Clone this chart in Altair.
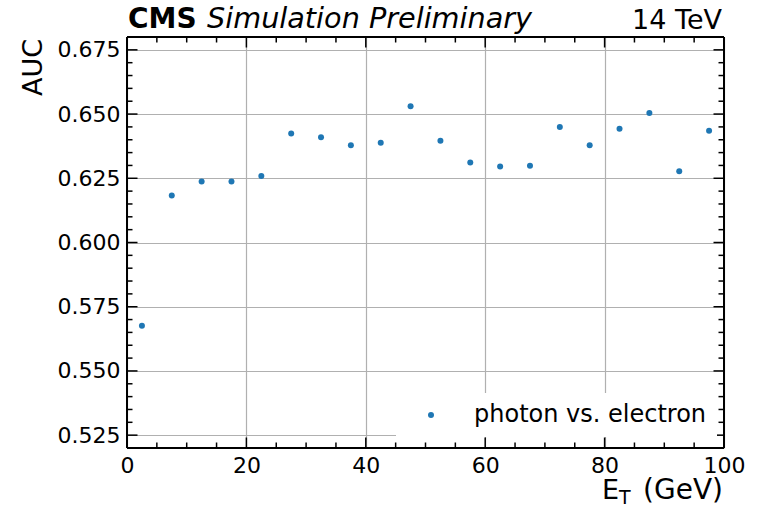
import altair as alt
import pandas as pd

# ---------------- data ----------------
et_bin_centers = [2.5, 7.5, 12.5, 17.5, 22.5, 27.5, 32.5, 37.5, 42.5, 47.5,
                  52.5, 57.5, 62.5, 67.5, 72.5, 77.5, 82.5, 87.5, 92.5, 97.5]
auc_values = [0.5676, 0.6183, 0.6237, 0.6237, 0.6259, 0.6424, 0.6410, 0.6379, 0.6388, 0.6530,
              0.6396, 0.6311, 0.6296, 0.6299, 0.6450, 0.6379, 0.6443, 0.6504, 0.6277, 0.6435]
series_label = "photon vs. electron"

x_domain = [0, 100]
y_domain = [0.52, 0.68]
x_major_ticks = [0, 20, 40, 60, 80, 100]
x_minor_ticks = [5, 10, 15, 25, 30, 35, 45, 50, 55, 65, 70, 75, 85, 90, 95]
y_major_ticks = [0.525, 0.550, 0.575, 0.600, 0.625, 0.650, 0.675]
y_minor_ticks = [0.530, 0.535, 0.540, 0.545, 0.555, 0.560, 0.565, 0.570,
                 0.580, 0.585, 0.590, 0.595, 0.605, 0.610, 0.615, 0.620,
                 0.630, 0.635, 0.640, 0.645, 0.655, 0.660, 0.665, 0.670]

exp_label = "CMS"
status_label = "Simulation Preliminary"
energy_label = "14 TeV"
y_title = "AUC"
x_title_main = "E"
x_title_sub = "T"
x_title_unit = "(GeV)"

# ---------------- layout ----------------
W, H = 597, 411
FONT = "DejaVu Sans"
MAJ, MIN = 10.5, 5.5
TICKW = 1.5

df = pd.DataFrame({"et": et_bin_centers, "auc": auc_values, "series": [series_label] * len(et_bin_centers)})
xs = alt.Scale(domain=x_domain, nice=False, zero=False)
ys = alt.Scale(domain=y_domain, nice=False, zero=False)

x_axis = alt.Axis(
    values=x_major_ticks, title=None, grid=True, gridColor="#b0b0b0", gridWidth=1.2,
    domain=False, ticks=False, labelFontSize=22, labelFont=FONT, labelColor="black",
    labelPadding=7, labelFlush=False, labelOverlap=False, format="d")
y_axis = alt.Axis(
    values=y_major_ticks, title=None, grid=True, gridColor="#b0b0b0", gridWidth=1.2,
    domain=False, ticks=False, labelFontSize=22, labelFont=FONT, labelColor="black",
    labelPadding=7, labelFlush=False, labelOverlap=False, format=".3f")

points = alt.Chart(df).mark_circle(size=36, opacity=1).encode(
    x=alt.X("et:Q", scale=xs, axis=x_axis),
    y=alt.Y("auc:Q", scale=ys, axis=y_axis),
    color=alt.Color("series:N", scale=alt.Scale(domain=[series_label], range=["#1f77b4"]),
                    legend=alt.Legend(title=None, orient="none", legendX=269, legendY=356,
                                      fillColor="white", padding=10, symbolType="circle",
                                      symbolSize=36, symbolOffset=13, labelOffset=31,
                                      labelFontSize=24, labelFont=FONT, labelColor="black",
                                      labelLimit=500, symbolStrokeWidth=0)),
)

xmaj = pd.DataFrame({"et": x_major_ticks})
xmin = pd.DataFrame({"et": x_minor_ticks})
ymaj = pd.DataFrame({"auc": y_major_ticks})
ymin = pd.DataFrame({"auc": y_minor_ticks})

def xticks(d, length):
    base = alt.Chart(d).mark_rule(color="black", strokeWidth=TICKW)
    bottom = base.encode(x=alt.X("et:Q", scale=xs, axis=x_axis), y=alt.value(H), y2=alt.value(H - length))
    top = base.encode(x=alt.X("et:Q", scale=xs, axis=x_axis), y=alt.value(0), y2=alt.value(length))
    return [bottom, top]

def yticks(d, length):
    base = alt.Chart(d).mark_rule(color="black", strokeWidth=TICKW)
    left = base.encode(y=alt.Y("auc:Q", scale=ys, axis=y_axis), x=alt.value(0), x2=alt.value(length))
    right = base.encode(y=alt.Y("auc:Q", scale=ys, axis=y_axis), x=alt.value(W), x2=alt.value(W - length))
    return [left, right]

one = pd.DataFrame({"k": [0]})
fr = alt.Chart(one).mark_rule(color="black", strokeWidth=2)
frame = [
    fr.encode(x=alt.value(0), x2=alt.value(W), y=alt.value(0)),
    fr.encode(x=alt.value(0), x2=alt.value(W), y=alt.value(H)),
    fr.encode(x=alt.value(0), y=alt.value(0), y2=alt.value(H)),
    fr.encode(x=alt.value(W), y=alt.value(0), y2=alt.value(H)),
]

def label(txt, x, y, size, align="left", weight="normal", style="normal", angle=0, baseline="alphabetic"):
    d = pd.DataFrame({"t": [txt]})
    kw = dict(font=FONT, fontSize=size, align=align, baseline=baseline, fontWeight=weight,
              fontStyle=style, color="black")
    if angle:
        kw["angle"] = angle
    return alt.Chart(d).mark_text(**kw).encode(text="t:N", x=alt.value(x), y=alt.value(y))

texts = [
    label(exp_label, 1, -9, 28, weight="bold"),
    label(status_label, 80, -9, 28.7, style="italic"),
    label(energy_label, W - 2, -8, 27, align="right"),
    label(y_title, -85, 2, 27, align="right", angle=270),
    label(x_title_main, 475, 462, 27),
    label(x_title_sub, 492, 467, 19),
    label(x_title_unit, W - 1, 462, 28, align="right"),
]

layers = [points] + xticks(xmaj, MAJ) + xticks(xmin, MIN) + yticks(ymaj, MAJ) + yticks(ymin, MIN) + frame + texts

chart = alt.layer(*layers).properties(
    width=W, height=H,
    padding={"left": 127, "top": 37, "right": 39, "bottom": 63},
    autosize=alt.AutoSizeParams(type="none"),
).configure_view(strokeWidth=0)

chart.save("out.html", embed_options={"renderer": "svg", "actions": False})
